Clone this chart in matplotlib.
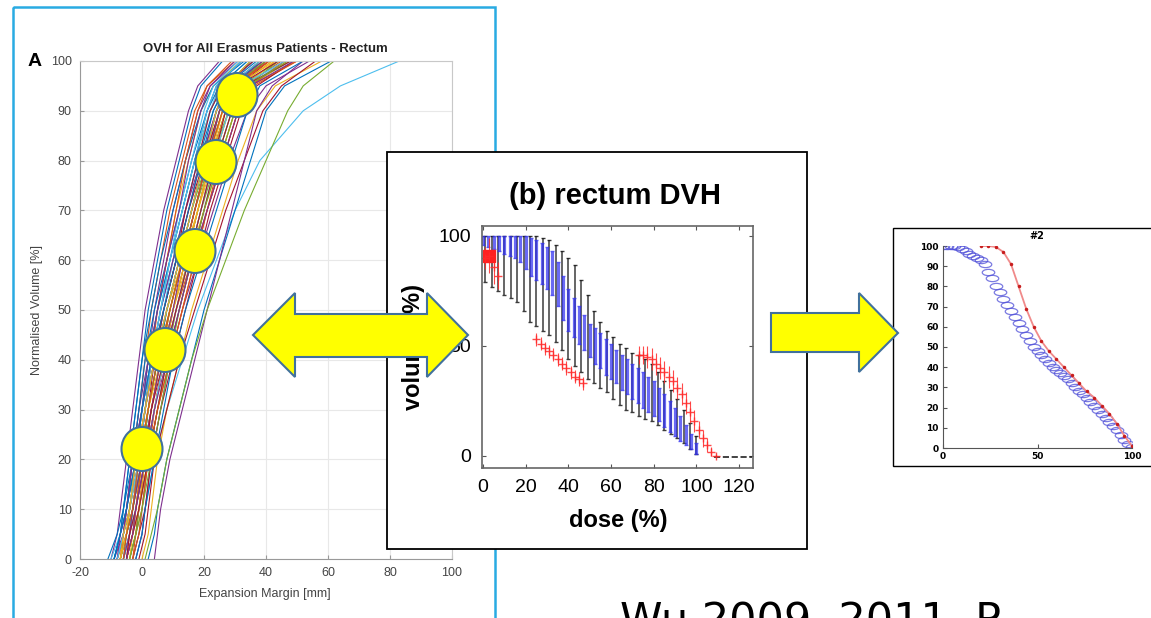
import matplotlib
matplotlib.use("Agg")
import numpy as np
import matplotlib.pyplot as plt
import matplotlib.transforms as mtransforms
from matplotlib.patches import Rectangle, Ellipse, Polygon
from matplotlib.path import Path
from matplotlib import font_manager

W, H = 1151, 618

# ---- panel A: overlap volume histograms (margin in mm at each volume level)
ovh_levels = [0, 5, 10, 20, 30, 40, 50, 60, 70, 80, 90, 95, 100]
ovh_margins = [
    [-9, -7, -6, -4, -2, 0, 2, 5, 8, 12, 16, 19, 26],
    [-8, -6, -5, -3, -1, 1, 3, 6, 9, 13, 17, 21, 30],
    [-7, -5, -4, -2, 0, 2, 5, 8, 11, 15, 19, 23, 32],
    [-10, -8, -7, -5, -3, -1, 1, 4, 7, 11, 15, 18, 25],
    [-6, -4, -3, -1, 1, 3, 6, 9, 13, 17, 22, 26, 36],
    [-2, 0, 1, 4, 8, 13, 18, 24, 30, 38, 52, 64, 83],
    [-5, -3, -2, 0, 2, 4, 7, 11, 15, 19, 24, 28, 38],
    [-8, -6, -4, -2, 1, 3, 6, 10, 14, 18, 23, 27, 35],
    [-7, -5, -3, -1, 2, 5, 8, 12, 16, 20, 25, 29, 40],
    [-4, -2, -1, 1, 3, 6, 9, 13, 17, 21, 26, 31, 42],
    [-9, -6, -5, -3, -1, 2, 4, 7, 10, 14, 18, 22, 31],
    [-6, -4, -2, 0, 3, 6, 10, 14, 18, 22, 27, 32, 44],
    [-3, -1, 0, 2, 5, 8, 12, 16, 20, 24, 29, 34, 46],
    [-7, -5, -4, -2, 0, 3, 7, 11, 15, 20, 25, 30, 40],
    [-11, -8, -6, -4, -2, 0, 3, 6, 10, 14, 19, 23, 33],
    [-5, -3, -2, 1, 4, 7, 11, 15, 19, 23, 28, 33, 45],
    [-8, -5, -3, -1, 2, 5, 9, 13, 17, 21, 26, 30, 39],
    [-2, 0, 1, 3, 6, 9, 13, 18, 23, 28, 34, 40, 54],
    [-6, -4, -3, 0, 3, 6, 9, 13, 17, 22, 28, 34, 48],
    [-7, -5, -4, -1, 1, 4, 7, 10, 14, 18, 22, 25, 34],
    [-4, -2, -1, 1, 4, 7, 10, 14, 18, 22, 27, 31, 41],
    [-9, -7, -6, -3, -1, 1, 4, 8, 12, 16, 21, 25, 34],
    [-5, -3, -1, 2, 5, 9, 13, 17, 21, 25, 30, 36, 50],
    [0, 2, 3, 5, 8, 12, 16, 21, 26, 31, 37, 43, 58],
    [-8, -6, -5, -2, 1, 4, 8, 12, 16, 20, 24, 27, 36],
    [-6, -4, -3, -1, 2, 5, 8, 12, 16, 21, 26, 30, 38],
    [-10, -7, -5, -3, 0, 2, 5, 9, 13, 17, 22, 26, 36],
    [-3, -1, 1, 3, 6, 10, 14, 18, 22, 27, 32, 37, 49],
    [2, 4, 5, 8, 12, 16, 20, 25, 30, 35, 40, 46, 61],
    [-7, -5, -3, -1, 1, 3, 5, 8, 11, 14, 18, 21, 29],
    [-5, -3, -2, 0, 3, 6, 10, 15, 20, 25, 30, 35, 47],
    [-8, -6, -5, -3, 0, 3, 6, 10, 14, 19, 24, 29, 41],
    [-4, -2, -1, 2, 5, 8, 11, 15, 19, 24, 29, 34, 44],
    [-6, -4, -3, -1, 1, 3, 6, 9, 12, 16, 20, 23, 31],
    [-1, 1, 2, 4, 8, 12, 17, 22, 27, 33, 39, 45, 56],
    [-9, -7, -5, -2, 0, 2, 5, 9, 13, 17, 21, 24, 32],
    [-3, -1, 0, 2, 4, 7, 11, 16, 21, 26, 31, 35, 46],
    [-7, -5, -4, -2, 1, 4, 8, 13, 18, 23, 28, 33, 43],
    [4, 5, 6, 9, 13, 17, 21, 25, 29, 33, 37, 42, 52],
    [1, 3, 5, 8, 12, 16, 21, 27, 33, 40, 47, 52, 62],
    [-8, -6, -4, -2, 0, 3, 6, 9, 13, 17, 21, 24, 32],
    [-7, -6, -4, -1, 1, 4, 7, 11, 14, 18, 22, 26, 36],
    [-6, -5, -3, 0, 2, 5, 8, 12, 16, 20, 24, 28, 39],
    [-5, -4, -2, 0, 3, 6, 9, 13, 17, 21, 25, 29, 41],
    [-4, -3, -1, 1, 4, 7, 10, 14, 18, 22, 26, 30, 43],
    [-8, -7, -5, -3, 0, 2, 5, 8, 12, 15, 19, 22, 30],
    [-7, -5, -3, 0, 2, 5, 9, 13, 17, 21, 25, 29, 40],
    [-6, -4, -2, 1, 4, 7, 11, 15, 19, 23, 28, 32, 46],
    [-5, -3, -1, 2, 5, 8, 12, 16, 20, 24, 29, 33, 48],
    [-9, -7, -5, -2, 0, 3, 7, 11, 15, 19, 23, 27, 37],
    [-3, -2, 0, 2, 5, 9, 13, 17, 21, 26, 31, 35, 50],
    [-7, -5, -4, -1, 2, 6, 10, 14, 18, 22, 27, 31, 42],
    [-6, -4, -3, 0, 3, 6, 10, 13, 17, 21, 25, 29, 39],
    [-4, -2, 0, 3, 6, 9, 12, 16, 20, 25, 30, 34, 47],
    [-8, -6, -4, -1, 1, 4, 8, 12, 16, 20, 24, 28, 38],
    [-5, -4, -2, 1, 3, 7, 11, 15, 19, 23, 27, 31, 44],
    [-2, 0, 1, 4, 7, 10, 14, 19, 24, 29, 34, 38, 52],
    [-6, -5, -3, -1, 2, 5, 9, 13, 17, 21, 26, 30, 41],
    [-7, -6, -4, -2, 1, 4, 8, 12, 16, 20, 24, 27, 35],
    [-5, -3, -2, 1, 4, 8, 12, 16, 21, 26, 31, 35, 49],
]
matlab_colors = ['#0072BD', '#D95319', '#EDB120', '#7E2F8E',
                 '#77AC30', '#4DBEEE', '#A2142F']

# ---- panel b: rectum DVH bands (dose %, volume %)
black_dose = [1, 4, 7, 10, 13, 16, 19, 22, 25, 28, 31, 34, 37, 40, 43, 46, 49,
              52, 55, 58, 61, 64, 67, 70, 73, 76, 79, 82, 85, 88, 91, 94, 97, 100]
black_upper = [100, 100, 100, 100, 100, 100, 100, 100, 100, 99, 98, 96, 93, 90, 87,
               80, 73, 66, 61, 57, 54, 51, 49, 47, 46, 44, 42, 38, 34, 30, 26, 21, 15, 9]
black_lower = [79, 77, 75, 73, 72, 70, 66, 61, 59, 57, 55, 52, 48, 44, 41, 38, 35,
               33, 31, 29, 26, 23, 21, 20, 18, 17, 16, 14, 12, 10, 8, 6, 3, 1]

blue_dose = [0, 2.5, 5, 7.5, 10, 12.5, 15, 17.5, 20, 22.5, 25, 27.5, 30, 32.5, 35,
             37.5, 40, 42.5, 45, 47.5, 50, 52.5, 55, 57.5, 60, 62.5, 65, 67.5, 70,
             72.5, 75, 77.5, 80, 82.5, 85, 87.5, 90, 92.5, 95, 97.5, 100]
blue_upper = [100, 100, 100, 100, 100, 100, 100, 100, 100, 99, 98, 97, 95, 93, 88,
              82, 76, 72, 68, 64, 60, 58, 56, 53, 51, 48, 46, 44, 42, 40, 38, 36,
              34, 31, 28, 25, 22, 18, 14, 10, 6]
blue_lower = [96, 95, 94, 93, 92, 91, 90, 88, 85, 82, 80, 78, 76, 73, 68, 62, 57,
              54, 51, 48, 45, 42, 40, 37, 35, 33, 30, 28, 26, 24, 22, 20, 18, 16,
              13, 11, 9, 7, 5, 3, 1]

red_dose = [1, 3, 5, 7, 25, 27, 29, 31, 33, 35, 37, 39, 41, 43, 45, 47,
            73, 75, 77, 79, 81, 83, 85, 87, 89, 91, 93, 95, 97, 99, 101, 103,
            105, 107, 109]
red_vol = [90, 91, 86, 82, 53, 51, 49, 47.5, 46, 44, 42, 40, 38, 36, 35, 33,
           46, 46, 45, 44, 42, 40, 38, 36, 34, 31, 28, 24, 20, 16, 12, 8, 5, 2, 0]
red_err = [5, 8, 8, 6, 3, 3, 3, 3, 3, 3, 3, 3, 3, 3, 3, 3,
           4, 4, 5, 5, 5, 5, 5, 5, 5, 5, 5, 5, 5, 5, 4, 4, 3, 2, 1]
red_square = (3, 91)
tail_dose = [108, 111, 114, 117, 120, 123, 126]
tail_vol = [-0.5, -0.5, -0.5, -0.5, -0.5, -0.5, -0.5]

# ---- panel #2: DVH comparison
p2_blue_dose = list(range(0, 101, 2))
p2_blue_vol = [100, 100, 100, 100, 99.5, 98.5, 97.5, 96, 95, 94, 93, 91, 87, 84, 80,
               77, 74, 71, 68, 65, 62, 59, 56, 53, 50, 48, 46, 44, 42, 40, 38.5, 37,
               35.5, 34, 32, 30, 28, 26.5, 25, 23, 21, 19, 17, 15, 13, 11, 9, 6.5,
               4, 2, 0.5]
p2_red_dose = [20, 24, 28, 32, 36, 40, 44, 48, 52, 56, 60, 64, 68, 72, 76, 80,
               84, 88, 92, 96, 100]
p2_red_vol = [100, 100, 99.5, 97, 91, 80, 69, 60, 53, 48, 44, 40, 36, 32, 28, 25,
              21, 17, 12, 6, 1]

names = {f.name for f in font_manager.fontManager.ttflist}
narrow = 'Liberation Sans Narrow' if 'Liberation Sans Narrow' in names else 'Liberation Sans'
plt.rcParams['font.family'] = ['Liberation Sans', 'DejaVu Sans']
plt.rcParams['axes.unicode_minus'] = False

fig = plt.figure(figsize=(W / 100, H / 100), dpi=100)
fig.patch.set_facecolor('white')
px = mtransforms.Affine2D().scale(1 / W, -1 / H).translate(0, 1) + fig.transFigure


def rect(x0, y0, x1, y1):
    return [x0 / W, 1 - y1 / H, (x1 - x0) / W, (y1 - y0) / H]


def ftext(x, y, s, **kw):
    kw.setdefault('zorder', 1)
    return fig.text(x, y, s, transform=px, **kw)


# slide frames
fig.add_artist(Rectangle((13, 7), 482, 640, transform=px, fill=False,
                         ec='#29abe2', lw=1.8, zorder=0.5))
fig.add_artist(Rectangle((387, 152), 420, 397, transform=px, fc='white',
                         ec='black', lw=1.3, zorder=2))
fig.add_artist(Rectangle((893, 228), 300, 238, transform=px, fc='white',
                         ec='black', lw=1.0, zorder=2))

# ---- panel A
ax1 = fig.add_axes(rect(80, 61, 452, 559))
ax1.set_zorder(1)
for i, m in enumerate(ovh_margins):
    ax1.plot(m, ovh_levels, color=matlab_colors[i % 7], lw=0.8)
ax1.set_xlim(-20, 100)
ax1.set_ylim(0, 100)
ax1.set_xticks(range(-20, 101, 20))
ax1.set_yticks(range(0, 101, 10))
ax1.grid(True, color='#e8e8e8', lw=0.8)
ax1.set_axisbelow(True)
ax1.tick_params(direction='in', length=3, color='#999999', labelcolor='#444444',
                labelsize=9, pad=6)
for s in ax1.spines.values():
    s.set_color('#c8c8c8')
ax1.spines['left'].set_color('#999999')
ax1.spines['bottom'].set_color('#999999')
ftext(265, 49, 'OVH for All Erasmus Patients - Rectum', ha='center', va='center',
      fontsize=9.5, fontweight='bold', color='#222222')
ftext(35, 62, 'A', ha='center', va='center', fontsize=14, fontweight='bold')
ftext(37, 310, 'Normalised Volume [%]', ha='center', va='center', rotation=90,
      fontsize=9, color='#444444')
ftext(265, 594, 'Expansion Margin [mm]', ha='center', va='center',
      fontsize=9, color='#444444')

# ---- panel b
ax2 = fig.add_axes(rect(482, 226, 753, 468))
ax2.set_zorder(3)
bd = np.array(black_dose)
bu, bl = np.array(black_upper), np.array(black_lower)
ax2.errorbar(bd, (bu + bl) / 2, yerr=(bu - bl) / 2, fmt='none', ecolor='#1a1a1a',
             elinewidth=1.1, capsize=1.5, alpha=0.85)
ud, uu, ul = np.array(blue_dose), np.array(blue_upper), np.array(blue_lower)
ax2.errorbar(ud, (uu + ul) / 2, yerr=(uu - ul) / 2, fmt='none', ecolor='#3030f0',
             elinewidth=2.3, capsize=1.5, alpha=0.72)
ax2.errorbar(red_dose, red_vol, yerr=red_err, fmt='+', color='#ff2a2a', ms=6,
             elinewidth=0.8, alpha=0.85)
ax2.plot(*red_square, 's', color='#ff2020', ms=8)
ax2.plot(tail_dose, tail_vol, '--', color='#222222', lw=1.2)
ax2.set_xlim(-0.5, 126.5)
ax2.set_ylim(-5.5, 104.5)
ax2.set_xticks(range(0, 121, 20))
ax2.set_yticks([0, 50, 100])
ax2.tick_params(direction='in', length=3, top=True, right=True, color='#555555',
                labelsize=14, pad=8)
for lab in ax2.get_xticklabels() + ax2.get_yticklabels():
    lab.set_family(narrow)
for s in ax2.spines.values():
    s.set_color('#666666')
    s.set_linewidth(1.2)
ftext(615, 196, '(b) rectum DVH', ha='center', va='center', fontsize=21,
      fontweight='semibold', zorder=3)
ftext(618, 520, 'dose (%)', ha='center', va='center', fontsize=17,
      fontweight='bold', zorder=3)
ftext(414, 347, 'volume (%)', ha='center', va='center', rotation=90, fontsize=17,
      fontweight='bold', zorder=3)

# ---- panel #2
ax3 = fig.add_axes(rect(943, 246, 1132, 448))
ax3.set_zorder(3)
uc = Path.unit_circle()
oval = Path(uc.vertices * np.array([1.0, 0.5]), uc.codes)
ax3.plot(p2_blue_dose, p2_blue_vol, ls='none', marker=oval, ms=9, mfc='none',
         mec='#4f4fd8', mew=0.9, alpha=0.75)
ax3.plot(p2_red_dose, p2_red_vol, '-', color='#f08a8a', lw=1.3)
ax3.plot(p2_red_dose, p2_red_vol, '.', color='#c81e1e', ms=3)
ax3.set_xlim(0, 100)
ax3.set_ylim(0, 100)
ax3.set_xticks([0, 50, 100])
ax3.set_yticks(range(0, 101, 10))
ax3.spines['top'].set_visible(False)
ax3.spines['right'].set_visible(False)
for s in ('left', 'bottom'):
    ax3.spines[s].set_color('#555555')
ax3.tick_params(direction='in', length=3, labelsize=6.5, pad=3, color='#555555')
for lab in ax3.get_xticklabels() + ax3.get_yticklabels():
    lab.set_fontweight('bold')
    lab.set_family('DejaVu Sans')
ftext(1037, 236, '#2', ha='center', va='center', fontsize=7, fontweight='bold',
      family='DejaVu Sans', zorder=3)

# ---- yellow call-outs
for cx, cy in [(237, 95), (216, 162), (195, 251), (165, 350), (142, 449)]:
    fig.add_artist(Ellipse((cx, cy), 41, 44, transform=px, fc='#ffff00',
                           ec='#41719c', lw=1.5, zorder=5))

double_arrow = [(253, 335), (295, 293), (295, 314), (427, 314), (427, 293),
                (468, 335), (427, 377), (427, 357), (295, 357), (295, 377)]
fig.add_artist(Polygon(double_arrow, closed=True, transform=px, fc='#ffff00',
                       ec='#41719c', lw=1.5, zorder=5))
right_arrow = [(771, 313), (859, 313), (859, 293), (898, 333), (859, 372),
               (859, 352), (771, 352)]
fig.add_artist(Polygon(right_arrow, closed=True, transform=px, fc='#ffff00',
                       ec='#41719c', lw=1.5, zorder=5))

ftext(620, 633, 'Wu 2009, 2011, P', ha='left', va='baseline', fontsize=31,
      family='DejaVu Sans', color='black', zorder=2)

fig.savefig('out.png', dpi=100)
